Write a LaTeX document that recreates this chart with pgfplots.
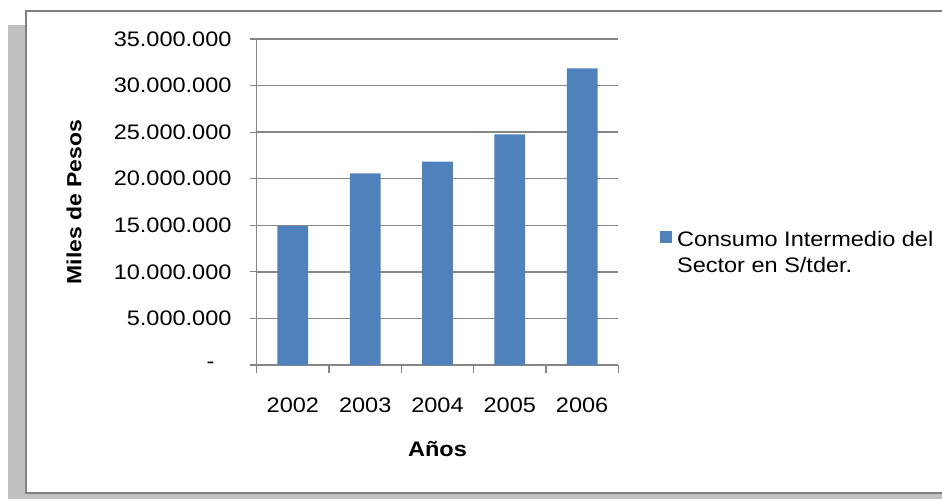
\documentclass[border=0pt]{standalone}
\usepackage{fontspec}
\setmainfont{Liberation Sans}[FakeStretch=1.12]
\usepackage{pgfplots}
\pgfplotsset{compat=1.18}
\definecolor{barblue}{RGB}{79,129,189}
\definecolor{gridgray}{RGB}{134,134,134}
\definecolor{shadowgray}{RGB}{192,192,192}
\definecolor{framegray}{RGB}{128,128,128}

\begin{document}
\fontsize{21}{26}\selectfont
\begin{tikzpicture}[x=1pt,y=1pt]
\useasboundingbox (0,0) rectangle (942,499);
% drop shadow and chart frame
\fill[shadowgray] (8,0) rectangle (960,474);
\filldraw[fill=white, draw=framegray, line width=1.5pt] (26,6) rectangle (960,488);
\begin{axis}[
  at={(256.7pt,134pt)}, anchor=south west,
  scale only axis, width=361.6pt, height=326pt,
  xmin=-0.5, xmax=4.5, ymin=0, ymax=35000000,
  scaled y ticks=false,
  axis lines*=left,
  axis line style={gridgray, line width=1.5pt},
  ymajorgrids, major grid style={gridgray, line width=1.5pt},
  tick align=outside,
  tick style={gridgray, line width=1.2pt},
  major tick length=7pt, minor tick length=8pt,
  major x tick style={draw=none},
  xtick={0,1,2,3,4},
  xticklabels={2002,2003,2004,2005,2006},
  minor xtick={-0.5,0.5,1.5,2.5,3.5,4.5},
  ytick={0,5000000,10000000,15000000,20000000,25000000,30000000,35000000},
  yticklabels={{-\hspace*{17pt}},5.000.000,10.000.000,15.000.000,20.000.000,25.000.000,30.000.000,35.000.000},
  every tick label/.append style={font=\fontsize{21}{26}\selectfont, text=black},
  xticklabel style={anchor=center, yshift=-33pt},
  yticklabel style={anchor=east, inner sep=0pt, xshift=-18pt},
  xlabel={\bfseries Años},
  ylabel={\bfseries Miles de Pesos},
  xlabel style={at={(axis description cs:0.5,-0.258)}, anchor=center, font=\fontsize{21}{26}\selectfont},
  ylabel style={at={(axis description cs:-0.505,0.5)}, anchor=center, font=\fontsize{20.5}{26}\selectfont},
  legend style={at={(1.115,0.427)}, anchor=north west, draw=none, fill=none,
    font=\fontsize{21}{26}\selectfont, inner sep=0pt},
  legend cell align=left,
  legend image code/.code={\fill[barblue] (0pt,-4pt) rectangle (12pt,8pt);},
]
\addplot[ybar, bar width=0.425, fill=barblue, draw=none]
  coordinates {(0,14920000) (1,20580000) (2,21830000) (3,24770000) (4,31850000)};
\addlegendentry{\begin{tabular}[t]{@{\hspace{3pt}}l@{}}Consumo Intermedio del\\Sector en S/tder.\end{tabular}}
\end{axis}
\end{tikzpicture}
\end{document}
